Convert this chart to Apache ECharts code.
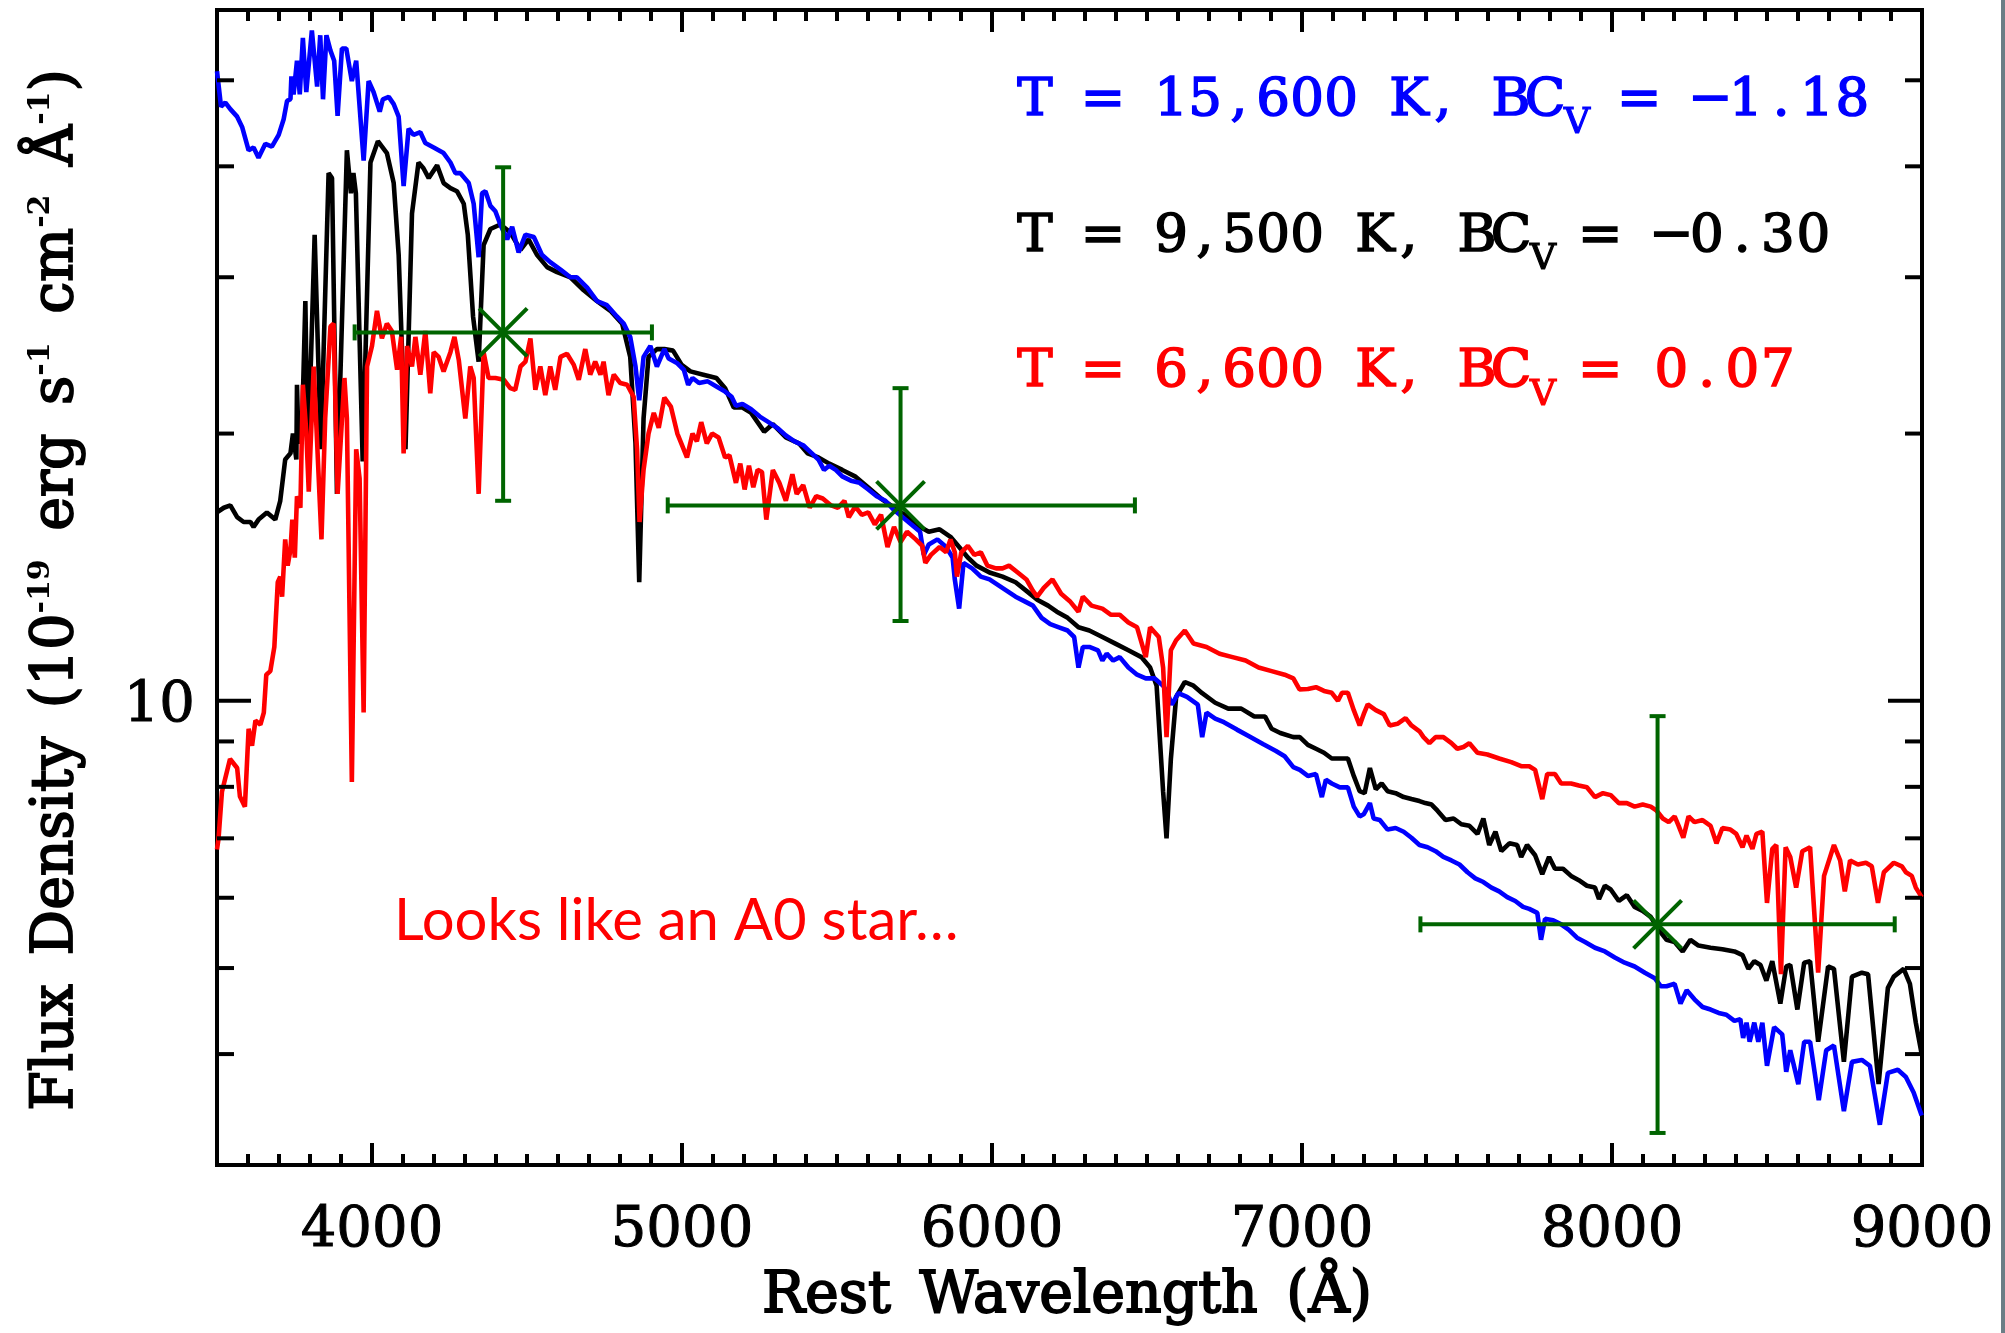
<!DOCTYPE html>
<html><head><meta charset="utf-8">
<script src="https://cdn.jsdelivr.net/npm/echarts@6/dist/echarts.min.js"></script>
<style>html,body{margin:0;padding:0;background:#fff}#c{width:2005px;height:1333px}</style>
</head><body><div id="c"></div>
<script>
// ---- data: [wavelength (Å), flux density (1e-19 erg/s/cm2/Å)] ----
const blueSpec = [[3500,51.2],[3513,46.7],[3527,47.2],[3543,46.4],[3565,45.5],[3581,44.3],[3602,41.7],[3618,42.0],[3634,40.9],[3656,42.4],[3677,42.1],[3699,43.4],[3715,45.2],[3726,47.4],[3737,47.6],[3740,50.5],[3747,48.2],[3758,52.6],[3767,48.2],[3777,55.8],[3788,48.5],[3806,56.9],[3823,49.2],[3833,56.2],[3842,47.6],[3853,56.2],[3866,54.0],[3878,52.6],[3889,45.6],[3903,54.3],[3917,54.3],[3935,49.9],[3949,52.6],[3973,40.6],[3989,49.9],[4005,48.5],[4025,46.1],[4035,47.6],[4054,47.9],[4070,47.0],[4086,45.5],[4102,38.0],[4118,44.1],[4134,43.4],[4156,43.7],[4172,42.5],[4199,42.0],[4231,41.4],[4253,40.4],[4269,39.3],[4285,39.3],[4312,38.3],[4328,36.3],[4344,31.6],[4355,37.3],[4366,37.5],[4382,36.1],[4398,35.6],[4414,34.4],[4436,33.1],[4452,34.2],[4473,32.0],[4495,33.5],[4522,33.3],[4548,31.8],[4575,31.2],[4608,30.6],[4640,30.0],[4661,30.0],[4694,29.2],[4726,28.2],[4758,27.9],[4790,27.1],[4812,26.6],[4833,25.7],[4850,23.8],[4862,21.8],[4876,24.4],[4898,25.1],[4919,23.8],[4943,24.9],[4957,24.3],[4985,24.0],[5006,23.6],[5020,22.7],[5034,23.1],[5055,22.8],[5083,22.9],[5111,22.6],[5139,22.3],[5160,22.0],[5174,21.5],[5195,21.6],[5223,21.3],[5251,20.9],[5279,20.6],[5307,20.3],[5335,19.9],[5363,19.6],[5391,19.4],[5419,19.0],[5440,18.7],[5458,18.2],[5475,18.4],[5496,18.2],[5517,17.9],[5545,17.7],[5573,17.6],[5601,17.3],[5628,17.0],[5656,16.8],[5684,16.4],[5712,16.1],[5740,15.8],[5768,15.5],[5780,14.6],[5796,15.0],[5824,15.2],[5852,14.9],[5873,14.5],[5880,13.7],[5894,12.7],[5908,14.3],[5936,14.1],[5964,13.8],[5992,13.7],[6020,13.5],[6048,13.3],[6076,13.1],[6104,12.95],[6132,12.8],[6160,12.4],[6188,12.2],[6216,12.1],[6244,12.0],[6265,11.8],[6279,10.9],[6293,11.5],[6314,11.5],[6342,11.4],[6356,11.1],[6370,11.3],[6391,11.1],[6412,11.2],[6440,10.9],[6468,10.7],[6496,10.6],[6524,10.6],[6552,10.4],[6566,10.2],[6580,9.9],[6601,10.2],[6629,10.1],[6664,9.9],[6678,9.1],[6692,9.7],[6720,9.55],[6748,9.46],[6790,9.28],[6832,9.11],[6874,8.94],[6916,8.78],[6944,8.66],[6972,8.42],[6993,8.36],[7019,8.23],[7045,8.27],[7064,7.79],[7077,8.15],[7096,8.07],[7122,7.99],[7148,7.99],[7167,7.60],[7186,7.41],[7199,7.45],[7219,7.67],[7231,7.37],[7251,7.34],[7276,7.16],[7302,7.19],[7328,7.12],[7353,7.01],[7379,6.88],[7405,6.84],[7431,6.77],[7456,6.67],[7482,6.61],[7508,6.54],[7534,6.41],[7559,6.31],[7585,6.25],[7611,6.16],[7636,6.10],[7662,6.01],[7688,5.95],[7713,5.86],[7733,5.83],[7759,5.77],[7771,5.38],[7784,5.68],[7810,5.66],[7836,5.60],[7861,5.52],[7887,5.41],[7913,5.35],[7945,5.27],[7977,5.22],[8009,5.14],[8041,5.07],[8073,5.02],[8106,4.94],[8138,4.87],[8157,4.77],[8176,4.77],[8202,4.80],[8221,4.56],[8241,4.72],[8266,4.61],[8292,4.52],[8318,4.49],[8344,4.45],[8369,4.43],[8395,4.36],[8414,4.38],[8423,4.17],[8434,4.34],[8444,4.13],[8459,4.34],[8472,4.13],[8485,4.34],[8500,3.88],[8523,4.29],[8549,4.21],[8562,3.82],[8575,4.04],[8601,3.70],[8620,4.13],[8639,4.13],[8667,3.55],[8691,4.04],[8716,4.09],[8748,3.45],[8774,3.92],[8806,3.94],[8832,3.88],[8864,3.33],[8890,3.81],[8922,3.84],[8948,3.77],[8973,3.62],[8999,3.41]];

const blackSpec = [[3500,16.3],[3522,16.5],[3543,16.6],[3565,16.1],[3586,15.9],[3608,15.9],[3618,15.7],[3634,16.0],[3661,16.3],[3688,16.0],[3704,16.8],[3720,18.7],[3737,19.0],[3745,20.0],[3756,18.7],[3758,22.7],[3763,19.5],[3774,20.0],[3785,28.2],[3792,19.5],[3803,24.2],[3815,33.5],[3835,19.2],[3860,39.3],[3871,38.8],[3887,17.1],[3919,41.7],[3932,37.3],[3940,39.3],[3948,37.3],[3970,18.6],[3995,40.4],[4019,42.7],[4048,41.4],[4070,38.3],[4086,31.8],[4108,19.2],[4129,35.4],[4150,40.4],[4166,39.8],[4183,38.8],[4210,40.1],[4231,38.3],[4253,37.8],[4274,37.5],[4296,36.3],[4309,33.5],[4326,27.1],[4344,24.1],[4360,32.6],[4382,34.0],[4414,34.4],[4446,33.7],[4479,32.2],[4505,33.1],[4532,31.8],[4565,30.8],[4597,30.4],[4640,30.0],[4683,29.0],[4726,28.2],[4769,27.5],[4807,26.6],[4833,24.4],[4850,19.5],[4862,13.6],[4876,20.8],[4892,24.4],[4919,24.9],[4943,24.9],[4971,24.8],[4999,23.9],[5027,23.5],[5069,23.3],[5111,23.1],[5139,22.5],[5167,21.4],[5195,21.4],[5223,21.1],[5265,20.1],[5293,20.5],[5335,19.8],[5377,19.5],[5405,19.0],[5440,18.8],[5475,18.5],[5517,18.2],[5558,17.9],[5600,17.4],[5642,16.9],[5684,16.5],[5719,16.2],[5754,15.8],[5796,15.5],[5831,15.6],[5866,15.3],[5894,14.9],[5922,14.5],[5950,14.2],[5992,13.95],[6034,13.8],[6076,13.6],[6111,13.3],[6146,13.0],[6181,12.8],[6209,12.6],[6244,12.4],[6279,12.1],[6314,12.0],[6356,11.8],[6398,11.6],[6440,11.4],[6482,11.2],[6510,10.9],[6531,10.4],[6552,7.9],[6563,7.0],[6577,8.6],[6594,10.1],[6622,10.5],[6650,10.4],[6678,10.2],[6720,9.95],[6762,9.8],[6804,9.8],[6846,9.6],[6881,9.6],[6902,9.3],[6930,9.2],[6972,9.1],[6993,9.1],[7019,8.92],[7045,8.83],[7071,8.74],[7096,8.61],[7122,8.61],[7148,8.61],[7167,8.23],[7186,7.91],[7202,7.87],[7219,8.40],[7238,7.95],[7257,8.07],[7276,7.91],[7302,7.87],[7328,7.79],[7353,7.75],[7379,7.71],[7398,7.67],[7418,7.64],[7437,7.52],[7463,7.34],[7489,7.37],[7514,7.26],[7540,7.23],[7566,7.08],[7585,7.37],[7604,6.88],[7624,7.12],[7643,6.77],[7669,6.91],[7694,6.88],[7707,6.67],[7726,6.88],[7752,6.70],[7775,6.38],[7797,6.67],[7816,6.47],[7842,6.47],[7868,6.35],[7893,6.28],[7919,6.19],[7945,6.16],[7958,5.98],[7977,6.19],[7996,6.13],[8022,5.95],[8048,6.04],[8073,5.86],[8099,5.80],[8125,5.71],[8151,5.52],[8176,5.38],[8202,5.35],[8228,5.22],[8253,5.38],[8279,5.30],[8318,5.27],[8356,5.25],[8395,5.22],[8421,5.17],[8440,4.99],[8459,5.09],[8479,5.04],[8498,4.84],[8517,5.09],[8543,4.56],[8562,5.02],[8575,5.04],[8598,4.49],[8620,5.07],[8639,5.09],[8665,4.13],[8697,5.02],[8716,4.99],[8748,3.92],[8774,4.89],[8806,4.94],[8826,4.92],[8860,3.70],[8890,4.75],[8909,4.89],[8941,4.99],[8961,4.80],[8980,4.34],[8999,4.00]];

const redSpec = [[3500,6.8],[3505,7.0],[3516,7.9],[3542,8.6],[3565,8.4],[3574,7.8],[3590,7.6],[3602,9.3],[3613,8.9],[3624,9.5],[3640,9.4],[3651,9.7],[3659,10.7],[3672,10.8],[3685,11.5],[3696,13.6],[3704,13.8],[3710,13.1],[3720,15.2],[3728,14.2],[3737,14.8],[3743,16.0],[3751,14.5],[3758,17.0],[3769,16.5],[3777,22.7],[3788,20.1],[3796,17.2],[3812,23.8],[3837,15.2],[3849,20.8],[3866,26.4],[3876,26.6],[3889,17.1],[3911,23.1],[3919,20.8],[3935,8.1],[3949,19.2],[3960,17.8],[3973,9.7],[3984,23.8],[4000,25.1],[4016,27.5],[4032,25.6],[4048,26.6],[4064,26.1],[4081,23.6],[4094,25.7],[4102,19.0],[4113,25.1],[4129,23.8],[4140,25.7],[4156,23.3],[4172,26.1],[4188,22.2],[4199,24.7],[4215,24.4],[4231,23.5],[4253,24.7],[4266,25.7],[4280,24.2],[4301,20.8],[4317,23.8],[4328,23.1],[4344,17.1],[4360,24.7],[4376,23.1],[4398,23.1],[4425,23.0],[4446,22.5],[4462,22.4],[4479,23.8],[4495,24.1],[4511,25.6],[4527,22.4],[4543,23.8],[4559,22.1],[4575,23.8],[4591,22.4],[4608,24.4],[4629,24.6],[4651,23.9],[4667,23.0],[4688,24.9],[4704,23.3],[4720,24.1],[4737,23.3],[4747,24.1],[4763,22.1],[4780,23.3],[4801,22.8],[4823,22.7],[4844,22.0],[4855,19.2],[4863,15.9],[4876,18.2],[4892,20.0],[4909,21.1],[4925,20.3],[4943,21.95],[4964,21.45],[4985,20.0],[5016,18.8],[5034,20.0],[5048,19.6],[5062,20.6],[5080,19.5],[5097,20.0],[5118,19.8],[5139,18.8],[5153,18.9],[5174,17.6],[5188,18.5],[5202,17.3],[5216,18.4],[5230,17.4],[5244,18.2],[5258,18.1],[5272,16.0],[5293,18.2],[5314,17.6],[5335,16.8],[5356,18.0],[5370,17.1],[5391,17.5],[5412,16.5],[5433,17.0],[5454,16.9],[5481,16.6],[5503,16.5],[5524,16.8],[5538,16.1],[5559,16.55],[5580,16.2],[5601,16.3],[5622,15.8],[5642,16.2],[5663,14.9],[5684,15.7],[5705,15.1],[5726,15.5],[5754,15.2],[5775,14.95],[5785,14.3],[5803,14.6],[5831,14.9],[5852,14.7],[5866,15.2],[5880,14.7],[5887,13.8],[5901,14.7],[5922,14.95],[5943,14.6],[5964,14.7],[5985,14.2],[6013,14.1],[6034,14.1],[6055,14.2],[6083,13.95],[6111,13.7],[6132,13.3],[6146,13.1],[6167,13.4],[6195,13.7],[6223,13.2],[6251,12.95],[6279,12.6],[6293,13.1],[6321,12.8],[6356,12.7],[6384,12.5],[6412,12.5],[6440,12.25],[6468,12.1],[6496,11.2],[6510,12.1],[6538,11.8],[6552,10.9],[6563,9.1],[6577,11.4],[6594,11.7],[6622,12.0],[6650,11.6],[6692,11.5],[6734,11.3],[6776,11.2],[6818,11.1],[6860,10.9],[6902,10.8],[6944,10.7],[6972,10.6],[6992,10.3],[7019,10.31],[7045,10.36],[7071,10.26],[7096,10.21],[7116,10.0],[7129,10.21],[7148,10.21],[7167,9.76],[7186,9.38],[7199,9.66],[7212,9.91],[7238,9.76],[7264,9.66],[7283,9.38],[7308,9.42],[7334,9.56],[7353,9.38],[7379,9.24],[7392,9.10],[7411,8.96],[7431,9.10],[7456,9.10],[7482,8.96],[7501,8.83],[7521,8.87],[7540,8.96],[7566,8.74],[7598,8.70],[7636,8.61],[7675,8.53],[7707,8.44],[7733,8.44],[7752,8.36],[7775,7.75],[7791,8.27],[7816,8.27],[7836,8.07],[7868,8.07],[7893,8.03],[7919,7.99],[7945,7.79],[7971,7.87],[7996,7.83],[8022,7.67],[8048,7.67],[8073,7.60],[8099,7.64],[8125,7.60],[8144,7.52],[8164,7.37],[8183,7.30],[8202,7.41],[8215,7.23],[8230,7.01],[8247,7.41],[8266,7.30],[8292,7.34],[8318,7.23],[8337,6.91],[8356,7.19],[8382,7.16],[8401,7.08],[8421,6.84],[8434,7.05],[8453,6.81],[8466,7.08],[8485,7.12],[8500,5.92],[8517,6.81],[8530,6.88],[8545,4.92],[8560,6.84],[8575,6.67],[8594,6.16],[8614,6.77],[8639,6.84],[8665,4.94],[8684,6.35],[8716,6.88],[8736,6.61],[8751,6.10],[8768,6.61],[8793,6.54],[8819,6.57],[8838,6.51],[8858,5.92],[8877,6.41],[8909,6.57],[8935,6.51],[8948,6.41],[8967,6.35],[8980,6.16],[8999,6.01]];

// photometric points with error bars
const ebWave   = [4423, 5705, 8147];
const ebFlux   = [26.0, 16.6, 5.60];
const ebWaveLo = [3944, 4954, 7382];
const ebWaveHi = [4903, 6461, 8912];
const ebFluxLo = [16.8, 12.3, 3.26];
const ebFluxHi = [39.9, 22.5, 9.61];

// ticks
const xMajorTicks = [4000, 5000, 6000, 7000, 8000, 9000];
const xMinorTicks = [3600,3700,3800,3900,4100,4200,4300,4400,4500,4600,4700,4800,4900,5100,5200,5300,5400,5500,5600,5700,5800,5900,6100,6200,6300,6400,6500,6600,6700,6800,6900,7100,7200,7300,7400,7500,7600,7700,7800,7900,8100,8200,8300,8400,8500,8600,8700,8800,8900];
const yMajorTicks = [10];
const yMinorTicks = [4, 5, 6, 7, 8, 9, 20, 30, 40, 50];

// annotation texts
const legendMain = ['T = 15,600 K, BC', 'T = 9,500 K, BC', 'T = 6,600 K, BC'];
const legendRest = [' = \u22121.18', ' = \u22120.30', ' = 0.07'];
const legendColors = ['#0000ff', '#000000', '#ff0000'];

const ebData = ebWave.map((w, i) => [w, ebFlux[i], ebWaveLo[i], ebWaveHi[i], ebFluxLo[i], ebFluxHi[i]]);

const chart = echarts.init(document.getElementById('c'), null, {renderer: 'canvas'});

function seg(kids, x1, y1, x2, y2, color, w) {
  kids.push({type: 'line', shape: {x1, y1, x2, y2}, style: {stroke: color, lineWidth: w, lineCap: 'butt'}});
}

function tickRender(params, api) {
  const cs = params.coordSys;
  const L = cs.x, R = cs.x + cs.width, T = cs.y, B = cs.y + cs.height;
  const kids = [];
  xMinorTicks.forEach(v => { const px = api.coord([v, 10])[0]; seg(kids, px, B, px, B - 11, '#000', 4); seg(kids, px, T, px, T + 11, '#000', 4); });
  xMajorTicks.forEach(v => { const px = api.coord([v, 10])[0]; seg(kids, px, B, px, B - 22, '#000', 4); seg(kids, px, T, px, T + 22, '#000', 4); });
  yMinorTicks.forEach(v => { const py = api.coord([5000, v])[1]; seg(kids, L, py, L + 17, py, '#000', 4); seg(kids, R, py, R - 17, py, '#000', 4); });
  yMajorTicks.forEach(v => { const py = api.coord([5000, v])[1]; seg(kids, L, py, L + 34, py, '#000', 4); seg(kids, R, py, R - 34, py, '#000', 4); });
  return {type: 'group', children: kids};
}

function ebRender(params, api) {
  const c = api.coord([api.value(0), api.value(1)]);
  const l = api.coord([api.value(2), api.value(1)]);
  const r = api.coord([api.value(3), api.value(1)]);
  const lo = api.coord([api.value(0), api.value(4)]);
  const hi = api.coord([api.value(0), api.value(5)]);
  const col = '#006400', w = 4, cap = 8, m = 24;
  const kids = [];
  seg(kids, l[0], l[1], r[0], r[1], col, w);
  seg(kids, lo[0], lo[1], hi[0], hi[1], col, w);
  seg(kids, l[0], l[1] - cap, l[0], l[1] + cap, col, w);
  seg(kids, r[0], r[1] - cap, r[0], r[1] + cap, col, w);
  seg(kids, lo[0] - cap, lo[1], lo[0] + cap, lo[1], col, w);
  seg(kids, hi[0] - cap, hi[1], hi[0] + cap, hi[1], col, w);
  seg(kids, c[0] - m, c[1] - m, c[0] + m, c[1] + m, col, w);
  seg(kids, c[0] - m, c[1] + m, c[0] + m, c[1] - m, col, w);
  return {type: 'group', children: kids};
}

// fixed-pitch rendering of a serif font via rich-text cells
function cells(str, name) {
  return str.split('').map(ch => '{' + name + '|' + (ch === ' ' ? '\u00a0' : ch) + '}').join('');
}
const serif = '"DejaVu Serif", "Liberation Serif", serif';
const legendX0 = 1018, vX = [1564, 1530, 1530], restX = [1586, 1547, 1547];
const legendY = [101, 237, 372], subY = [124, 260, 396];
const graphics = [];
legendMain.forEach((t, i) => {
  const col = legendColors[i];
  graphics.push({type: 'text', x: legendX0, y: legendY[i], style: {
    text: cells(t, 'a'), align: 'left', verticalAlign: 'middle', textAlign: 'left', textVerticalAlign: 'middle',
    rich: {a: {width: 34, align: 'center', fontFamily: serif, fontSize: 53, fill: col, stroke: col, lineWidth: 1.6, lineHeight: 60}}}});
  graphics.push({type: 'text', x: vX[i], y: subY[i], style: {text: 'V', fontFamily: serif, fontSize: 36, fill: col, stroke: col, lineWidth: 1.2, align: 'left', verticalAlign: 'middle', textAlign: 'left', textVerticalAlign: 'middle'}});
  graphics.push({type: 'text', x: restX[i], y: legendY[i], style: {
    text: cells(legendRest[i], 'b'), align: 'left', verticalAlign: 'middle', textAlign: 'left', textVerticalAlign: 'middle',
    rich: {b: {width: 35.5, align: 'center', fontFamily: serif, fontSize: 53, fill: col, stroke: col, lineWidth: 1.6, lineHeight: 60}}}});
});
graphics.push({type: 'text', x: 394, y: 921, style: {text: 'Looks like an A0 star\u2026', fontFamily: 'Lato, "Open Sans", sans-serif', fontSize: 58, fill: '#ff0000', align: 'left', verticalAlign: 'middle', textAlign: 'left', textVerticalAlign: 'middle'}});
graphics.push({type: 'text', x: 1067, y: 1297, style: {text: 'Rest\u2002Wavelength\u2002(\u00c5)', fontFamily: serif, fontSize: 57, fill: '#000', stroke: '#000', lineWidth: 1.8, align: 'center', verticalAlign: 'middle', textAlign: 'center', textVerticalAlign: 'middle'}});
graphics.push({type: 'text', x: 57, y: 590, rotation: Math.PI / 2, style: {
  text: '{m|Flux\u2002Density\u2002(10}{s|-19}{m|\u2002erg\u2002s}{s|-1}{m|\u2002cm}{s|-2}{m|\u2002\u00c5}{s|-1}{m|)}',
  align: 'center', verticalAlign: 'middle', textAlign: 'center', textVerticalAlign: 'middle',
  rich: {
    m: {fontFamily: serif, fontSize: 57, fill: '#000', stroke: '#000', lineWidth: 1.8, lineHeight: 62},
    s: {fontFamily: serif, fontWeight: 'bold', fontSize: 30, fill: '#000', verticalAlign: 'top', lineHeight: 34}
  }
}});
graphics.push({type: 'rect', x: 2001, y: 0, shape: {width: 4, height: 1333}, style: {fill: '#6b7e86'}});

chart.setOption({
  animation: false,
  backgroundColor: '#ffffff',
  grid: {left: 217, top: 10, width: 1705, height: 1155, show: true, borderColor: '#000', borderWidth: 4, backgroundColor: 'transparent', containLabel: false},
  xAxis: {
    type: 'value', min: 3500, max: 9000, interval: 500,
    axisLine: {show: false}, axisTick: {show: false}, splitLine: {show: false},
    axisLabel: {formatter: v => (Math.abs(v % 1000) < 1e-6 ? String(v) : ''), fontFamily: serif, fontSize: 56, color: '#000', textBorderColor: '#000', textBorderWidth: 1, margin: 38}
  },
  yAxis: {
    type: 'log', logBase: 10, min: 3, max: 60,
    axisLine: {show: false}, axisTick: {show: false}, splitLine: {show: false}, minorTick: {show: false},
    axisLabel: {
      formatter: v => (Math.abs(v - 10) < 1e-6 ? '{a|10}' : ''), margin: 22,
      rich: {a: {fontFamily: serif, fontSize: 56, color: '#000', textBorderColor: '#000', textBorderWidth: 1, padding: [12, 0, 0, 0]}}
    }
  },
  graphic: {elements: graphics},
  series: [
    {type: 'line', name: 'T=9500K', data: blackSpec, showSymbol: false, symbol: 'none', lineStyle: {color: '#000000', width: 4.6}, z: 2, silent: true},
    {type: 'line', name: 'T=15600K', data: blueSpec, showSymbol: false, symbol: 'none', lineStyle: {color: '#0000ff', width: 4.6}, z: 3, silent: true},
    {type: 'line', name: 'T=6600K', data: redSpec, showSymbol: false, symbol: 'none', lineStyle: {color: '#ff0000', width: 4.6}, z: 4, silent: true},
    {type: 'custom', name: 'photometry', data: ebData, renderItem: ebRender, encode: {x: [0, 2, 3], y: [1, 4, 5]}, z: 6, silent: true},
    {type: 'custom', name: 'ticks', data: [[5000, 10]], renderItem: tickRender, encode: {x: 0, y: 1}, z: 7, silent: true}
  ]
});
</script></body></html>
